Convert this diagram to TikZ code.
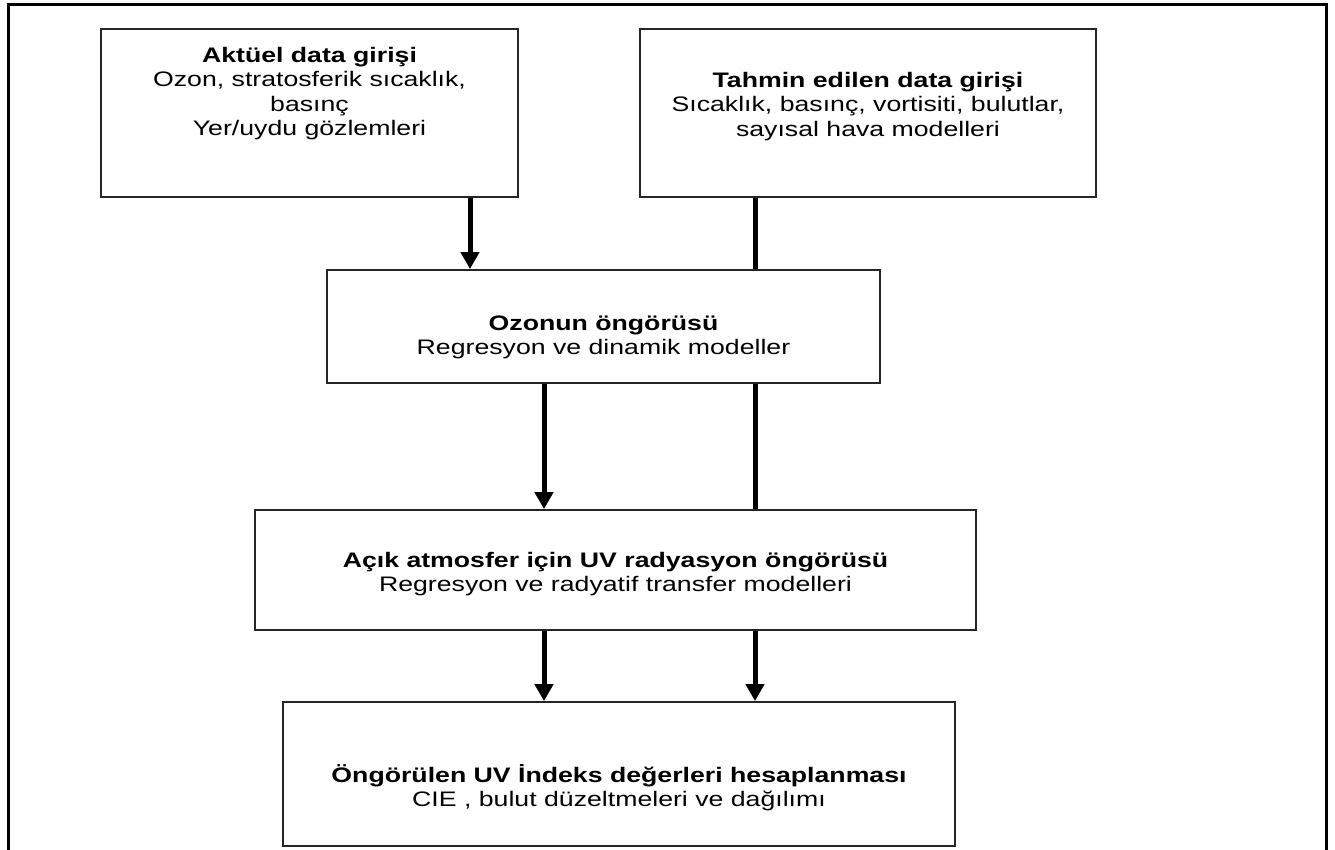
\documentclass[tikz,border=0pt]{standalone}
\usepackage{fontspec}
\setmainfont{Liberation Sans}[FakeStretch=1.27]
\usetikzlibrary{arrows.meta}
\begin{document}
\begin{tikzpicture}[x=1pt,y=-1pt,
  box/.style={draw=black!85,line width=1.8pt,fill=white,inner sep=0pt},
  txt/.style={align=center,inner sep=0pt,anchor=base,font=\fontsize{21}{24.5}\selectfont},
  arr/.style={line width=5pt,-{Triangle[length=17pt,width=18pt]}},
  lin/.style={line width=5pt}]
\useasboundingbox (0,0) rectangle (1335,849);
\fill[white] (0,0) rectangle (1335,849);
\draw[line width=3pt] (8.5,852) -- (8.5,4) -- (1326.5,4) -- (1326.5,852);
% boxes
\node[box,minimum width=417pt,minimum height=168pt] (b1) at (309.5,113) {};
\node[box,minimum width=456pt,minimum height=168pt] (b2) at (868,113) {};
\node[box,minimum width=553pt,minimum height=113pt] (b3) at (603.5,326.5) {};
\node[box,minimum width=721pt,minimum height=120pt] (b4) at (615.5,570) {};
\node[box,minimum width=672pt,minimum height=144pt] (b5) at (619,774) {};
% texts (base anchor = baseline of the last line)
\node[txt] (t1) at (309.5,135.5) {\textbf{Aktüel data girişi}\\Ozon, stratosferik sıcaklık,\\basınç\\Yer/uydu gözlemleri};
\node[txt] (t2) at (868,136) {\textbf{Tahmin edilen data girişi}\\Sıcaklık, basınç, vortisiti, bulutlar,\\sayısal hava modelleri};
\node[txt] (t3) at (603.5,354.5) {\textbf{Ozonun öngörüsü}\\Regresyon ve dinamik modeller};
\node[txt] (t4) at (615.5,591.5) {\textbf{Açık atmosfer için UV radyasyon öngörüsü}\\Regresyon ve radyatif transfer modelleri};
\node[txt] (t5) at (619,806.5) {\textbf{Öngörülen UV İndeks değerleri hesaplanması}\\CIE , bulut düzeltmeleri ve dağılımı};
% connector x positions
\coordinate (xa) at (470,0);
\coordinate (xb) at (544,0);
\coordinate (xc) at (755,0);
\draw[arr] (xa |- b1.south) -- (xa |- b3.north);
\draw[lin] (xc |- b2.south) -- (xc |- b3.north);
\draw[arr] (xb |- b3.south) -- (xb |- b4.north);
\draw[lin] (xc |- b3.south) -- (xc |- b4.north);
\draw[arr] (xb |- b4.south) -- (xb |- b5.north);
\draw[arr] (xc |- b4.south) -- (xc |- b5.north);
\end{tikzpicture}
\end{document}
